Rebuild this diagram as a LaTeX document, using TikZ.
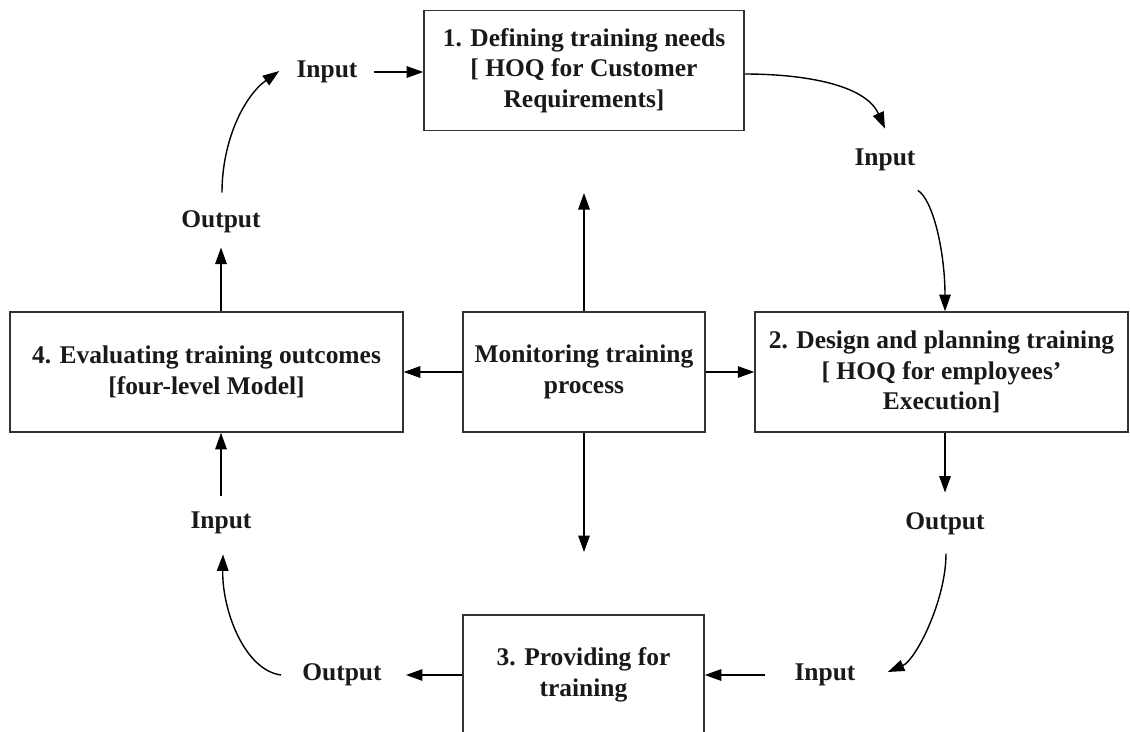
\documentclass[tikz,border=0pt]{standalone}
\usepackage{fontspec}
\setmainfont{Liberation Serif}
\usetikzlibrary{arrows.meta,calc}
\begin{document}
\begin{tikzpicture}[x=0.02cm,y=-0.02cm,
  every node/.style={font=\fontsize{14.5}{17.5}\selectfont\bfseries, text=black!90},
  proc/.style={draw=black!80, line width=0.9pt, align=center, inner sep=0pt, minimum height=2.4cm},
  lbl/.style={inner sep=0pt},
  arr/.style={line width=0.8pt, -{Triangle[length=3.3mm,width=2.3mm]}}]
\useasboundingbox (0,0) rectangle (1130,731);
\clip (0,0) rectangle (1130,731);
% process boxes
\node[proc, minimum width=6.4cm] (b1) at (584,70.5) {1. Defining training needs\\{[} HOQ for Customer\\Requirements]};
\node[proc, minimum width=4.84cm] (mon) at (584,372) {Monitoring training\\process};
\node[proc, minimum width=7.46cm] (b2) at (941.5,372) {2. Design and planning training\\{[} HOQ for employees’\\Execution]};
\node[proc, minimum width=7.86cm] (b4) at (206.5,372) {4. Evaluating training outcomes\\{[}four-level Model]};
\node[proc, minimum width=4.82cm] (b3) at (583.5,675) {3. Providing for\\training};
% labels
\node[lbl] (inTop) at (327,72) {Input};
\node[lbl] (outL) at (221,222) {Output};
\node[lbl] (inR) at (885,160) {Input};
\node[lbl] (outR) at (945,524) {Output};
\node[lbl] (inB) at (825,675) {Input};
\node[lbl] (outB) at (342,675) {Output};
\node[lbl] (inL) at (221,523) {Input};
% free ends of the monitoring arrows
\coordinate (mU) at (584,193);
\coordinate (mD) at (584,552);
% cycle connectors
\draw[arr] ($(inTop.east)+(16,0)$) -- (inTop -| b1.west);
\draw[arr] ($(b1.east)+(0,3.5)$) .. controls +(56,0) and +(-20,-45) .. ($(inR.north)+(0,-20)$);
\draw[arr] ($(inR.south east)+(2,19)$) .. controls +(15,9) and +(0,-60) .. (b2.north -| outR);
\draw[arr] (b2.south -| outR) -- ($(outR.north)+(0,-20)$);
\draw[arr] ($(outR.south)+(1,18)$) .. controls +(0,47) and +(28,-12) .. ($(inB.east)+(32,-3)$);
\draw[arr] ($(inB.west)+(-29,0)$) -- (inB -| b3.east);
\draw[arr] (outB -| b3.west) -- ($(outB.east)+(24,0)$);
\draw[arr] ($(outB.west)+(-21,0)$) .. controls +(-37,-5) and +(-1,55) .. ($(inL.south)+(2,20)$);
\draw[arr] ($(inL.north)+(0,-16)$) -- (b4.south -| inL);
\draw[arr] (b4.north -| outL) -- ($(outL.south)+(0,14)$);
\draw[arr] ($(outL.north)+(1,-18)$) .. controls +(0,-52) and +(-35,25) .. ($(inTop.west)+(-17,-1)$);
% monitoring arrows
\draw[arr] (mon.north) -- (mU);
\draw[arr] (mon.south) -- (mD);
\draw[arr] (mon.west) -- (b4.east);
\draw[arr] (mon.east) -- (b2.west);
\end{tikzpicture}
\end{document}
